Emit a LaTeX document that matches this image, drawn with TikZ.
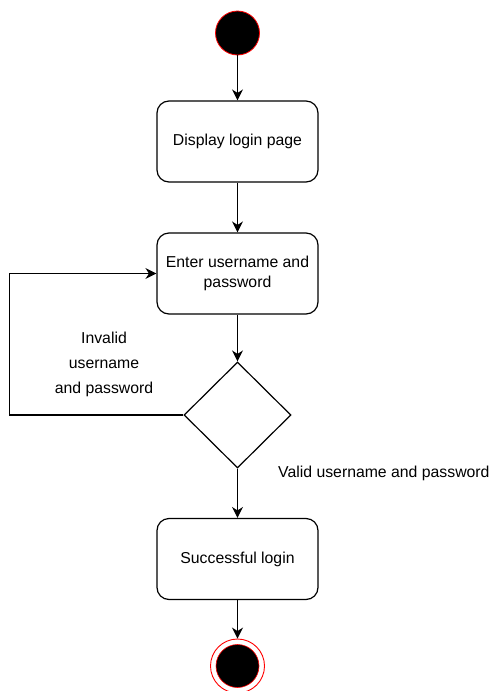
\documentclass[tikz,border=0pt]{standalone}
\usepackage{fontspec}
\setmainfont{Liberation Sans}
\usetikzlibrary{shapes.geometric,arrows.meta}
\begin{document}
\begin{tikzpicture}[x=1pt,y=-1pt,
  every node/.style={font=\fontsize{15.8}{20.5}\selectfont},
  act/.style={draw,line width=1.2pt,rounded corners=12pt,minimum width=161pt,minimum height=81pt,align=center,inner sep=2pt},
  arr/.style={draw,line width=1.2pt,-{Stealth[length=11pt,width=11pt]}},
  lbl/.style={align=center}]
\useasboundingbox (0,0) rectangle (495,691);
\node[circle,fill=black,draw=red,line width=0.8pt,minimum size=44pt,inner sep=0] (start) at (237.5,33) {};
\node[act] (b1) at (237.5,141.5) {Display login page};
\node[act] (b2) at (237.5,273.5) {Enter username and\\password};
\node[diamond,draw,line width=1.2pt,minimum width=107pt,minimum height=106pt,inner sep=0] (dia) at (237.5,415) {};
\node[act] (b3) at (237.5,559) {Successful login};
\node[circle,draw=red,line width=0.9pt,fill=white,minimum size=54pt,inner sep=0] (endo) at (237.5,666) {};
\node[circle,fill=black,draw=red,line width=0.6pt,minimum size=43pt,inner sep=0] (endi) at (237.5,666) {};
\draw[arr] (start) -- (b1);
\draw[arr] (b1) -- (b2);
\draw[arr] (b2) -- (dia);
\draw[arr] (dia) -- (b3);
\draw[arr] (b3) -- (endo);
\draw[arr] (dia.west) -- ++(-174,0) |- (b2.west);
\node[lbl,font=\fontsize{15.8}{25}\selectfont] (inv) at (104,364) {Invalid\\username\\and password};
\node[anchor=west,inner sep=0] (val) at (278,473) {Valid username and password};
\end{tikzpicture}
\end{document}
